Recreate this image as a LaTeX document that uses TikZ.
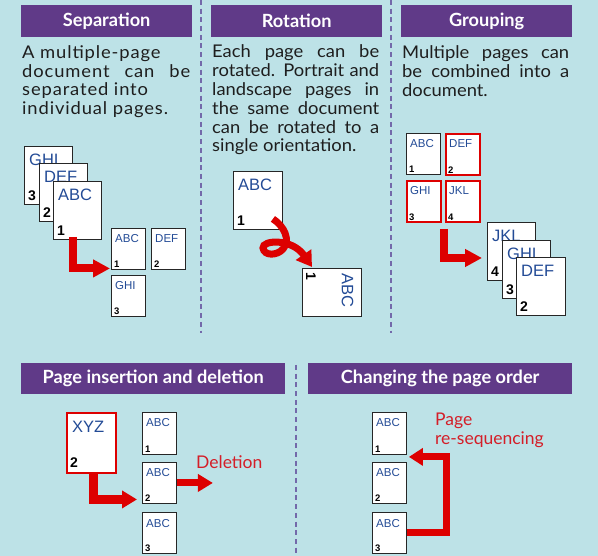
\documentclass[tikz,border=0pt]{standalone}
\usepackage{fontspec}
\setmainfont{Lato}
\newfontfamily\bodyfont[FakeStretch=1.05]{Lato}
\newfontfamily\sepfont[FakeStretch=1.05,LetterSpace=5]{Lato}
\newfontfamily\pgfnt{Liberation Sans}
\usetikzlibrary{arrows.meta}
\definecolor{bgc}{RGB}{189,226,231}
\definecolor{hdr}{RGB}{96,58,136}
\definecolor{arr}{RGB}{221,0,0}
\definecolor{ptxt}{RGB}{35,75,150}
\definecolor{dashc}{RGB}{115,105,170}
\definecolor{bodyc}{RGB}{30,30,30}
\definecolor{redlbl}{RGB}{212,30,40}
\newcommand\bigpg[6]{%
  \node[bigpage,#6] (#1) at (#2,#3) {};
  \node[bigtext] (#1t) at ([xshift=5pt,yshift=-20pt]#1.north west) {#4};
  \node[bignum] (#1n) at ([xshift=4pt,yshift=4pt]#1.south west) {#5};
}
\newcommand\smpg[6]{%
  \node[smpage,#6] (#1) at (#2,#3) {};
  \node[smtext] (#1t) at ([xshift=4pt,yshift=-15pt]#1.north west) {#4};
  \node[smnum] (#1n) at ([xshift=3pt,yshift=2.5pt]#1.south west) {#5};
}
\begin{document}
\begin{tikzpicture}[x=1pt,y=-1pt,
  hdrbox/.style={fill=hdr, text=white, font=\fontsize{18.2}{20}\selectfont\bfseries, minimum height=32pt, inner sep=0pt, anchor=north west},
  para/.style={anchor=base west, inner sep=0pt, align=left, text=bodyc, font=\bodyfont\fontsize{17.5}{18.8}\selectfont},
  redlabel/.style={anchor=base west, inner sep=0pt, align=left, text=redlbl, font=\fontsize{17.5}{19}\selectfont},
  bigpage/.style={draw=black!85, line width=0.9pt, fill=white, minimum width=48pt, minimum height=58pt, inner sep=0pt, anchor=north west},
  smpage/.style={draw=black!85, line width=0.9pt, fill=white, minimum width=34pt, minimum height=41pt, inner sep=0pt, anchor=north west},
  redpage/.style={draw=arr, line width=2pt},
  bigtext/.style={anchor=base west, inner sep=0pt, text=ptxt, font=\pgfnt\fontsize{16.5}{18}\selectfont},
  bignum/.style={anchor=base west, inner sep=0pt, font=\pgfnt\bfseries\fontsize{14}{16}\selectfont},
  smtext/.style={anchor=base west, inner sep=0pt, text=ptxt, font=\pgfnt\fontsize{11.5}{13}\selectfont},
  smnum/.style={anchor=base west, inner sep=0pt, font=\pgfnt\bfseries\fontsize{9.5}{11}\selectfont},
  redarr/.style={draw=arr, line width=8pt, -{Triangle[length=17pt,width=17pt]}},
  divider/.style={draw=dashc, line width=1.5pt, dash pattern=on 5pt off 3.7pt}
]
\useasboundingbox (0,0) rectangle (598,556);
\fill[bgc] (0,0) rectangle (598,556);
% dividers
\draw[divider] (201,0) -- (201,333);
\draw[divider] (391,0) -- (391,333);
\draw[divider] (296,365) -- (296,556);
% headers
\node[hdrbox, minimum width=171pt] (h1) at (21,5) {Separation};
\node[hdrbox, minimum width=171pt] (h2) at (211,5) {Rotation};
\node[hdrbox, minimum width=171pt] (h3) at (401,5) {Grouping};
\node[hdrbox, minimum width=264pt, minimum height=31pt] (h4) at (21,363) {Page insertion and deletion};
\node[hdrbox, minimum width=264pt, minimum height=31pt] (h5) at (308,363) {Changing the page order};
% paragraphs (anchor = baseline of last line)
\node[para, font=\sepfont\fontsize{17.5}{18.6}\selectfont] (t1) at (22,114.5) {A multiple-page\\\makebox[168pt][s]{document can be}\\separated into\\individual pages.};
\node[para] (t2) at (212,152) {\makebox[167pt][s]{Each page can be}\\\makebox[167pt][s]{rotated. Portrait and}\\\makebox[167pt][s]{landscape pages in}\\\makebox[167pt][s]{the same document}\\\makebox[167pt][s]{can be rotated to a}\\single orientation.};
\node[para] (t3) at (402,96.5) {\makebox[167pt][s]{Multiple pages can}\\\makebox[167pt][s]{be combined into a}\\document.};
% separation
\bigpg{sG}{24}{146}{GHI}{3}{}
\bigpg{sD}{39}{163}{DEF}{2}{}
\bigpg{sA}{53}{181}{ABC}{1}{}
\smpg{sa}{111}{228}{ABC}{1}{}
\smpg{sd}{151}{228}{DEF}{2}{}
\smpg{sg}{111}{275}{GHI}{3}{}
\draw[redarr] ([xshift=-4pt,yshift=3pt]sA.south) |- ([xshift=-1pt,yshift=-19.5pt]sa.west);
% rotation
\bigpg{rp}{233}{171}{ABC}{1}{minimum width=49pt}
\node[bigpage, minimum width=59pt, minimum height=48pt] (rr) at (302,268) {};
\node[bigtext, rotate=-90] (rrt) at ([xshift=-20pt,yshift=-5pt]rr.north east) {ABC};
\node[bignum, rotate=-90] (rrn) at ([xshift=4pt,yshift=-4pt]rr.north west) {1};
\draw[draw=arr, line width=7pt, -{Triangle[length=15pt,width=18pt]}]
  ([xshift=-10pt,yshift=11pt]rp.south east) .. controls (284,226) and (291,240) .. (283,249)
  .. controls (277,256) and (264,256) .. (263,248)
  .. controls (262,240) and (292,238) .. ([xshift=10pt,yshift=1pt]rr.north west);
% grouping
\smpg{ga}{406}{133}{ABC}{1}{}
\smpg{gd}{445}{133}{DEF}{2}{redpage}
\smpg{gg}{406}{180}{GHI}{3}{redpage}
\smpg{gj}{445}{180}{JKL}{4}{redpage}
\bigpg{gsj}{487}{222}{JKL}{4}{}
\bigpg{gsg}{502}{240}{GHI}{3}{}
\bigpg{gsd}{516}{257}{DEF}{2}{minimum width=49pt}
\draw[redarr] ([xshift=2pt,yshift=-6pt]gg.south east) |- ([xshift=-5pt,yshift=-36pt]gsj.north west);
% insertion and deletion
\smpg{i1}{142}{412}{ABC}{1}{minimum height=42pt}
\smpg{i2}{142}{462}{ABC}{2}{}
\smpg{i3}{142}{512}{ABC}{3}{}
\node[bigpage, draw=arr, line width=1.8pt, minimum width=49pt, minimum height=60pt] (xy) at (66,412) {};
\node[bigtext] (xyt) at ([xshift=6pt,yshift=-21pt]xy.north west) {XYZ};
\node[bignum] (xyn) at ([xshift=4pt,yshift=6pt]xy.south west) {2};
\draw[redarr, line width=9pt, -{Triangle[length=15pt,width=17pt]}] ([xshift=2pt]xy.south) |- ([xshift=-5pt,yshift=-16.5pt]i2.west);
\draw[redarr, line width=7pt, -{Triangle[length=15pt,width=17pt]}] (i2.east) -- ([xshift=36pt]i2.east);
\node[redlabel] (del) at (196,468) {Deletion};
% changing order
\smpg{o1}{372}{412}{ABC}{1}{minimum height=42pt}
\smpg{o2}{372}{462}{ABC}{2}{}
\smpg{o3}{372}{512}{ABC}{3}{}
\draw[redarr, line width=7pt, -{Triangle[length=14pt,width=17pt]}] (o3.east) -- ([xshift=39.5pt]o3.east) |- ([xshift=2pt,yshift=-2pt]o1.south east);
\node[redlabel] (rs) at (435,445) {Page\\re-sequencing};
\end{tikzpicture}
\end{document}
